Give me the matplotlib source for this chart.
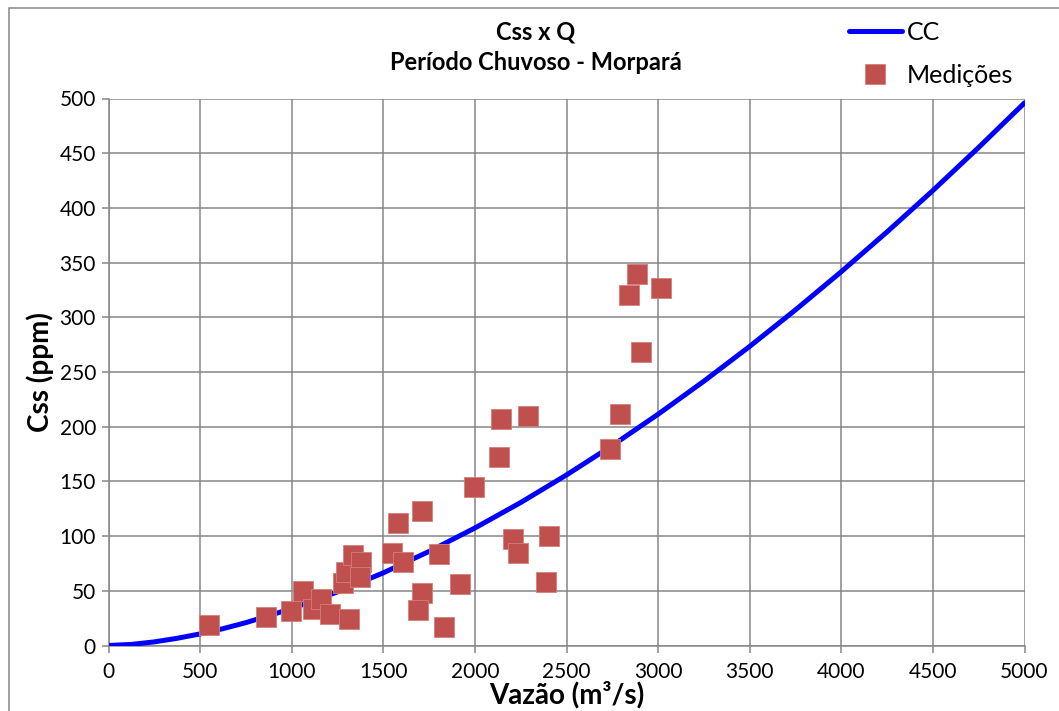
import matplotlib
matplotlib.use("Agg")
import matplotlib.pyplot as plt
from matplotlib.patches import Rectangle

# rating curve (Q in m3/s, Css in ppm)
curve_q = [0, 125, 250, 375, 500, 625, 750, 1000, 1250, 1500, 1750, 2000, 2250, 2500,
           2750, 3000, 3250, 3500, 3750, 4000, 4250, 4500, 4750, 5000]
curve_css = [0, 1.0, 3.3, 6.6, 10.6, 15.4, 20.9, 33.7, 49.0, 66.4, 86.0, 107.4, 130.7, 155.9,
             182.8, 211.4, 241.6, 273.4, 306.8, 341.7, 378.1, 415.9, 455.3, 496]

# measurements
meas_q = [550, 859, 994, 1063, 1117, 1158, 1208, 1314, 1281, 1294, 1332, 1381,
          1372, 1545, 1605, 1581, 1712, 1805, 1709, 1690, 1832, 1918, 1994, 2130,
          2141, 2290, 2208, 2236, 2403, 2387, 2736, 2794, 2905, 2841, 2885, 3018]
meas_css = [18.7, 26.3, 31.8, 50.1, 33.1, 42.2, 28.5, 24.2, 56.9, 67.5, 82.7, 76.6,
            62.9, 84.3, 76.6, 112.0, 122.7, 83.4, 48.3, 32.0, 17.2, 56.2, 144.6, 172.0,
            206.8, 209.8, 97.3, 84.3, 100.1, 58.3, 179.3, 211.6, 268.6, 320.4, 339.6, 327.0]

plt.rcParams['font.family'] = ['Lato', 'DejaVu Sans']
grid_color = '#868686'

fig = plt.figure(figsize=(10.59, 7.11), dpi=100)
ax = fig.add_axes([108.5 / 1059, 1 - 645.5 / 711, 916 / 1059, 547 / 711])

ax.plot(curve_q, curve_css, color='#0000FF', lw=3.6, label='CC', zorder=3,
        solid_capstyle='round')
ax.plot(meas_q, meas_css, ls='none', marker='s', ms=14.5, color='#C0504D',
        mec='#D47F7C', mew=0.6, label='Medições', zorder=4)

ax.set_xlim(0, 5000)
ax.set_ylim(0, 500)
ax.set_xticks(range(0, 5001, 500))
ax.set_yticks(range(0, 501, 50))
ax.grid(True, color=grid_color, lw=1.1)
ax.set_axisbelow(True)
for side in ['top', 'right']:
    ax.spines[side].set_visible(False)
for side in ['left', 'bottom']:
    ax.spines[side].set_color(grid_color)
    ax.spines[side].set_linewidth(1.1)
ax.tick_params(axis='both', labelsize=15, color=grid_color, width=1.1, length=5,
               pad=4)
ax.tick_params(axis='x', pad=7)

ax.set_xlabel('Vazão (m³/s)', fontsize=20, fontweight='bold', labelpad=-1)
ax.set_ylabel('Css (ppm)', fontsize=20, fontweight='bold', labelpad=4)

fig.text(536 / 1059, 1 - 32 / 711, 'Css x Q', ha='center', va='center',
         fontsize=17, fontweight='bold')
fig.text(536 / 1059, 1 - 63 / 711, 'Período Chuvoso - Morpará', ha='center',
         va='center', fontsize=17, fontweight='bold')

ax.legend(loc='upper left', bbox_to_anchor=(849 / 1059, 1 - 21 / 711),
          bbox_transform=fig.transFigure, frameon=False, fontsize=18,
          handlelength=2.1, handletextpad=0.2, labelspacing=0.8,
          borderpad=0, borderaxespad=0)

# outer chart border
fig.patches.append(Rectangle((9 / 1059, -0.1), 1.2, 1 - 8 / 711 + 0.1,
                             transform=fig.transFigure, fill=False,
                             edgecolor=grid_color, lw=1.1))

fig.savefig('out.png', dpi=100)
